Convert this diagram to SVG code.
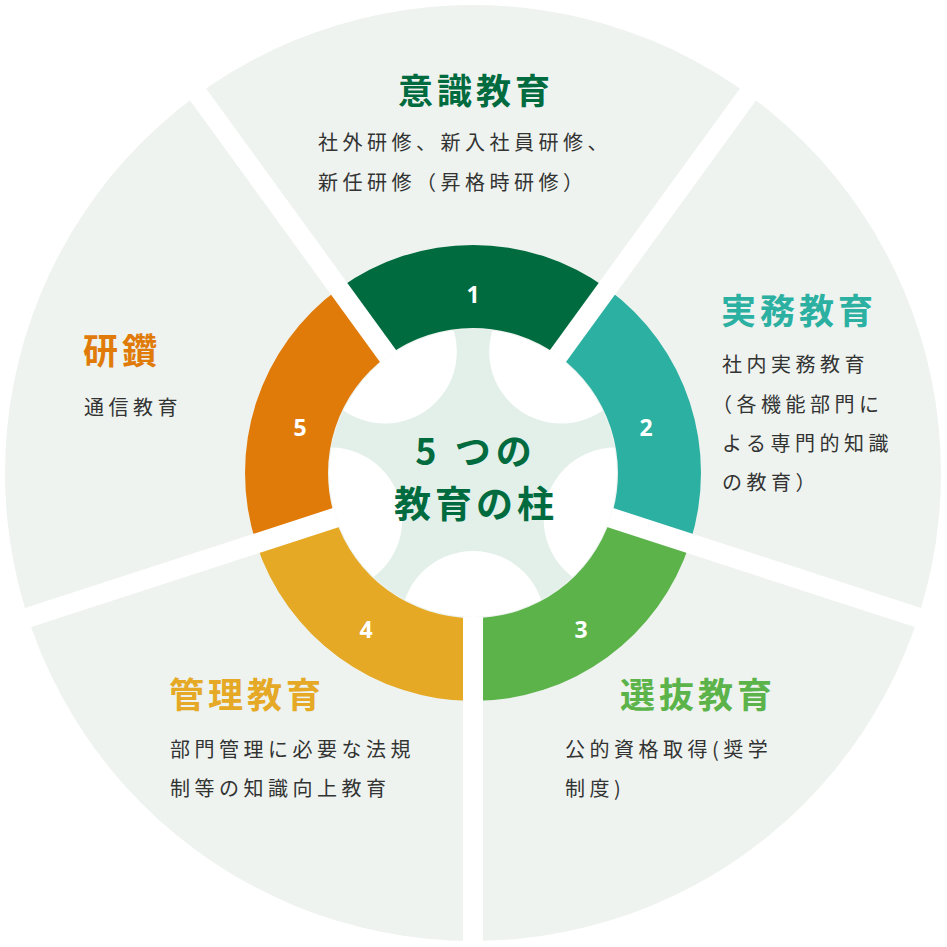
<svg xmlns="http://www.w3.org/2000/svg" width="947" height="947" viewBox="0 0 947 947">
<style>
text{font-family:"Noto Sans CJK JP","Noto Sans",sans-serif}
.t{font-size:35px;font-weight:700;letter-spacing:4px}
.b{font-size:20px;fill:#333;letter-spacing:4.5px}
.n{font-size:23px;font-weight:700;fill:#fff;text-anchor:middle;font-family:"Noto Sans",sans-serif}
.gap{stroke:#fff;stroke-width:20}
</style>
<defs><clipPath id="cc"><circle cx="473" cy="473" r="144"/></clipPath></defs>
<g id="background"><circle cx="473" cy="473" r="468" fill="#eef3ef"/></g>
<g id="ring">
<path d="M339,288.5 A228,228 0 0 1 607,288.5 L558.2,355.7 A145,145 0 0 0 387.8,355.7 Z" fill="#006b3f"/>
<path d="M607,288.5 A228,228 0 0 1 689.8,543.5 L610.9,517.8 A145,145 0 0 0 558.2,355.7 Z" fill="#2bb0a2"/>
<path d="M689.8,543.5 A228,228 0 0 1 473,701 L473,618 A145,145 0 0 0 610.9,517.8 Z" fill="#5bb34a"/>
<path d="M473,701 A228,228 0 0 1 256.2,543.5 L335.1,517.8 A145,145 0 0 0 473,618 Z" fill="#e5a926"/>
<path d="M256.2,543.5 A228,228 0 0 1 339,288.5 L387.8,355.7 A145,145 0 0 0 335.1,517.8 Z" fill="#e07b0a"/>
</g>
<g id="connectors">
<line class="gap" x1="473" y1="473" x2="755.1" y2="84.7"/>
<line class="gap" x1="473" y1="473" x2="929.5" y2="621.3"/>
<line class="gap" x1="473" y1="473" x2="473" y2="953"/>
<line class="gap" x1="473" y1="473" x2="16.5" y2="621.3"/>
<line class="gap" x1="473" y1="473" x2="190.9" y2="84.7"/>
</g>
<g id="center">
<circle cx="473" cy="473" r="144" fill="#e3f0e9"/>
<g fill="#fff" clip-path="url(#cc)">
<circle cx="561.2" cy="351.6" r="72"/>
<circle cx="615.7" cy="519.4" r="72"/>
<circle cx="473" cy="623" r="72"/>
<circle cx="330.3" cy="519.4" r="72"/>
<circle cx="384.8" cy="351.6" r="72"/>
</g>
<text x="476" y="465" text-anchor="middle" font-size="36" font-weight="700" fill="#006b3f" letter-spacing="5">5 つの</text>
<text x="476" y="518" text-anchor="middle" font-size="37" font-weight="700" fill="#006b3f" letter-spacing="4">教育の柱</text>
</g>
<g id="n1"><text class="n" x="473" y="303">1</text>
<text class="t" x="476" y="104" text-anchor="middle" fill="#006b3f">意識教育</text>
<text class="b" x="318" y="150">社外研修、新入社員研修、</text>
<text class="b" x="318" y="190">新任研修（昇格時研修）</text></g>
<g id="n2"><text class="n" x="646" y="436">2</text>
<text class="t" x="721" y="324" fill="#2bb0a2">実務教育</text>
<text class="b" x="722" y="372">社内実務教育</text>
<text class="b" x="712" y="412">（各機能部門に</text>
<text class="b" x="722" y="451">よる専門的知識</text>
<text class="b" x="722" y="490">の教育）</text></g>
<g id="n3"><text class="n" x="581" y="638">3</text>
<text class="t" x="620" y="708" fill="#5bb34a">選抜教育</text>
<text class="b" x="565" y="757">公的資格取得(奨学</text>
<text class="b" x="565" y="796">制度)</text></g>
<g id="n4"><text class="n" x="366" y="638">4</text>
<text class="t" x="169" y="708" fill="#e5a926">管理教育</text>
<text class="b" x="170" y="757">部門管理に必要な法規</text>
<text class="b" x="170" y="796">制等の知識向上教育</text></g>
<g id="n5"><text class="n" x="300" y="436">5</text>
<text class="t" x="83" y="364" fill="#e07b0a">研鑽</text>
<text class="b" x="84" y="415">通信教育</text></g>
</svg>
